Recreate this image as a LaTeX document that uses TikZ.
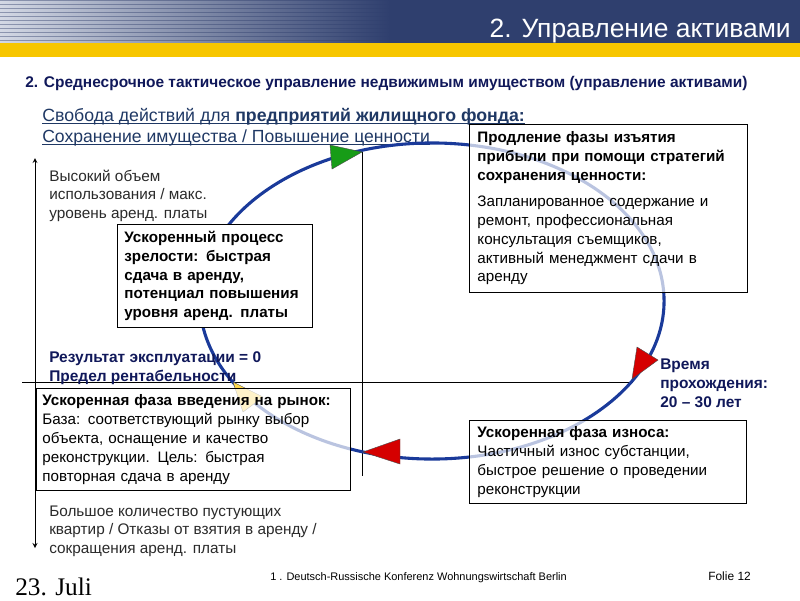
\documentclass[tikz,border=0pt]{standalone}
\usepackage{fontspec}
\setmainfont{Liberation Sans}
\newfontfamily\datefont{Liberation Serif}

\definecolor{bandeau}{HTML}{2F3F6E}
\definecolor{raie}{HTML}{D3D8E4}
\definecolor{jaune}{HTML}{F7C600}
\definecolor{marine}{HTML}{10185A}
\definecolor{entete}{HTML}{1F3864}
\definecolor{cercle}{HTML}{1A3A9A}
\definecolor{vert}{HTML}{179C17}
\definecolor{rouge}{HTML}{D50000}
\definecolor{jauneclair}{HTML}{FFD94D}
\definecolor{gristexte}{HTML}{2A2A2A}

\begin{document}
\begin{tikzpicture}[x=0.025cm,y=-0.025cm,every node/.style={inner sep=0pt},
  boite/.style={draw=black,line width=0.6pt,fill=white,fill opacity=0.7,text opacity=1,
    anchor=north west,align=left,font=\fontsize{10.8pt}{13.4pt}\selectfont},
  legende/.style={anchor=base west,align=left,text=gristexte,font=\fontsize{10.9pt}{13pt}\selectfont},
  bleu/.style={anchor=base west,align=left,text=marine,font=\fontsize{11pt}{13.5pt}\selectfont\bfseries},
  souligne/.style={draw=entete,line width=0.6pt},
  pointe/.style={draw=black!70,line width=0.3pt}]

\useasboundingbox (0,0) rectangle (800,600);

% bandeau du haut
\shade[left color=bandeau!55!white,right color=bandeau] (0,0) rectangle (390,43);
\foreach \s in {1,5,...,41}
  \shade[left color=raie,right color=bandeau] (0,\s) rectangle (390,\s+2);
\fill[bandeau] (390,0) rectangle (800,43);
\fill[jaune] (0,43) rectangle (800,57);
\node[anchor=base east,text=white,font=\fontsize{18.8pt}{22pt}\selectfont] (titre) at (791,37) {2. Управление активами};

\node[anchor=base west,text=marine,font=\fontsize{11pt}{13pt}\selectfont\bfseries] (soustitre) at (25,87)
  {2. Среднесрочное тактическое управление недвижимым имуществом (управление активами)};
\node[anchor=base west,text=entete,font=\fontsize{12.6pt}{15pt}\selectfont] (liberte) at (42,121)
  {Свобода действий для \textbf{предприятий жилищного фонда:}};
\node[anchor=base west,text=entete,font=\fontsize{12.5pt}{15pt}\selectfont] (valeur) at (42,142)
  {Сохранение имущества / Повышение ценности};
\draw[souligne] ([yshift=-1.6pt]liberte.base west) -- ([yshift=-1.6pt]liberte.base east);
\draw[souligne] ([yshift=-1.6pt]valeur.base west) -- ([yshift=-1.6pt]valeur.base east);

% axes
\coordinate (haut) at (35,158);
\coordinate (bas) at (35,548);
\draw[<->,>=stealth,line width=0.6pt] (bas) -- (haut);
\draw[line width=0.6pt] (22,382) -- (633,382);
\draw[line width=0.6pt] (362,152) -- (362,476);

% le cycle
\coordinate (centre) at (432,301);
\draw[cercle,line width=2.2pt] (centre) ellipse [x radius=5.8cm,y radius=3.95cm];
\filldraw[pointe,fill=vert] (330,145) -- (332,169) -- (362,152) -- cycle;
\filldraw[pointe,fill=rouge] (637,347) -- (658,360) -- (632,379) -- cycle;
\filldraw[pointe,fill=rouge] (363,452) -- (400,439) -- (400,464) -- cycle;
\filldraw[pointe,fill=jauneclair] (233,382) -- (263,397) -- (243,412) -- cycle;

% le point de base d'un texte sur plusieurs lignes est celui de la derniere ligne
\node[legende] (usage) at (49,218) {Высокий объем\\использования / макс.\\уровень аренд. платы};
\node[bleu] (resultat) at (49,381) {Результат эксплуатации = 0\\Предел рентабельности};
\node[bleu] (duree) at (660,407) {Время\\прохождения:\\20 – 30 лет};
\node[legende] (vacance) at (49,553) {Большое количество пустующих\\квартир / Отказы от взятия в аренду /\\сокращения аренд. платы};

% les quatre phases
\node[boite,inner xsep=0.2cm,text width=6.55cm,minimum height=4.2cm] (extension) at (469,124)
  {\textbf{Продление фазы изъятия}\\\textbf{прибыли при помощи стратегий}\\\textbf{сохранения ценности:}\\[5pt]
   Запланированное содержание и\\ремонт, профессиональная\\консультация съемщиков,\\активный менеджмент сдачи в\\аренду};
\node[boite,fill opacity=1,inner xsep=0.175cm,text width=4.525cm,minimum height=2.575cm] (maturite) at (117,224)
  {\bfseries Ускоренный процесс\\зрелости: быстрая\\сдача в аренду,\\потенциал повышения\\уровня аренд. платы};
\node[boite,inner xsep=0.15cm,text width=7.55cm,minimum height=2.55cm] (lancement) at (36,388)
  {\textbf{Ускоренная фаза введения на рынок:}\\База: соответствующий рынку выбор\\объекта, оснащение и качество\\реконструкции. Цель: быстрая\\повторная сдача в аренду};
\node[boite,inner xsep=0.2cm,text width=6.525cm,minimum height=2.075cm] (usure) at (469,420)
  {\textbf{Ускоренная фаза износа:}\\Частичный износ субстанции,\\быстрое решение о проведении\\реконструкции};

% pied de page
\node[anchor=base west,font=\fontsize{7.8pt}{9pt}\selectfont] (conference) at (270,580) {1 . Deutsch-Russische Konferenz Wohnungswirtschaft Berlin};
\node[anchor=base west,font=\fontsize{8.5pt}{9pt}\selectfont] (folie) at (708,580) {Folie 12};
\node[anchor=base west,font=\datefont\fontsize{18pt}{20pt}\selectfont] (date) at (15,595) {23. Juli};
\end{tikzpicture}
\end{document}
